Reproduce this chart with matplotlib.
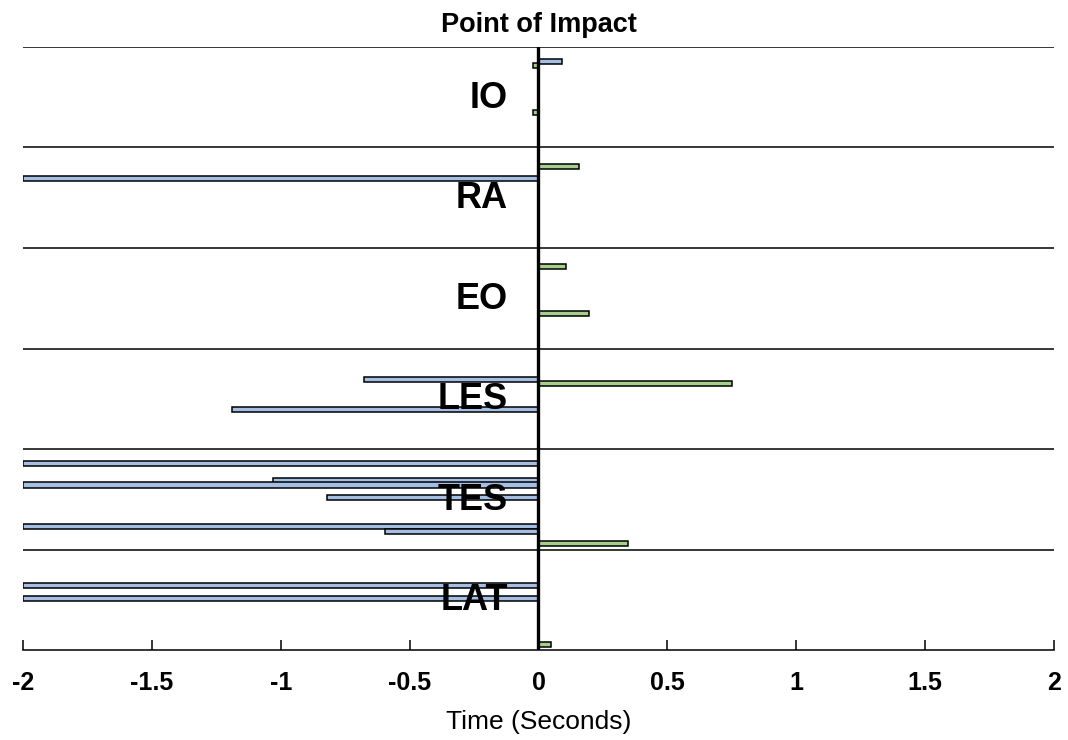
import matplotlib.pyplot as plt

# muscles, top to bottom
muscles = ['IO', 'RA', 'EO', 'LES', 'TES', 'LAT']

# onset times (s) relative to impact, one entry per bar
# group index, slot inside the group (0 = top, 1 = bottom), condition, time
bar_group = [0, 0, 0,
             1, 1,
             2, 2,
             3, 3, 3,
             4, 4, 4, 4, 4, 4, 4,
             5, 5, 5]
bar_slot = [0.149, 0.186, 0.647,
            0.186, 0.311,
            0.186, 0.647,
            0.311, 0.351, 0.607,
            0.146, 0.311, 0.358, 0.481, 0.769, 0.823, 0.945,
            0.358, 0.491, 0.948]
bar_cond = ['A', 'B', 'B',
            'B', 'A',
            'B', 'B',
            'A', 'B', 'A',
            'A', 'A', 'A', 'A', 'A', 'A', 'B',
            'A', 'A', 'B']
bar_time = [0.09, -0.02, -0.02,
            0.157, -2.0,
            0.107, 0.196,
            -0.675, 0.751, -1.19,
            -2.0, -1.03, -2.0, -0.82, -2.0, -0.594, 0.347,
            -2.0, -2.0, 0.05]

xticks = [-2, -1.5, -1, -0.5, 0, 0.5, 1, 1.5, 2]
xtick_labels = ['-2', '-1.5', '-1', '-0.5', '0', '0.5', '1', '1.5', '2']

cond_colors = {'A': '#a4bfe3', 'B': '#a6cf8c'}

plt.rcParams['font.family'] = 'Liberation Sans'

fig = plt.figure(figsize=(10.68, 7.40), dpi=100)
ax = fig.add_axes([0.0215, 0.1216, 0.9654, 0.8149])

ypos = [g + s for g, s in zip(bar_group, bar_slot)]
colors = [cond_colors[c] for c in bar_cond]
ax.barh(ypos, bar_time, height=0.05, left=0, color=colors,
        edgecolor='black', linewidth=1.1, zorder=3)

# separators between muscles
for i in range(len(muscles)):
    ax.axhline(i, color='black', lw=1.1, zorder=2)
    ax.text(-0.118, i + 0.51, muscles[i], ha='right', va='center',
            fontsize=26, fontweight='bold', zorder=5)

ax.axvline(0, color='black', lw=2.4, zorder=4)

ax.set_xlim(-2, 2)
ax.set_ylim(len(muscles), 0)
ax.set_xticks(xticks)
ax.set_xticklabels(xtick_labels, fontsize=18, fontweight='bold')
ax.tick_params(axis='x', direction='in', length=7, width=1.1, pad=15)
ax.set_yticks([])
for side in ['top', 'left', 'right']:
    ax.spines[side].set_visible(False)
ax.spines['bottom'].set_linewidth(1.1)

ax.set_xlabel('Time (Seconds)', fontsize=19, labelpad=11)
ax.set_title('Point of Impact', fontsize=19.5, fontweight='bold', pad=11)

fig.savefig('out.png', dpi=100)
